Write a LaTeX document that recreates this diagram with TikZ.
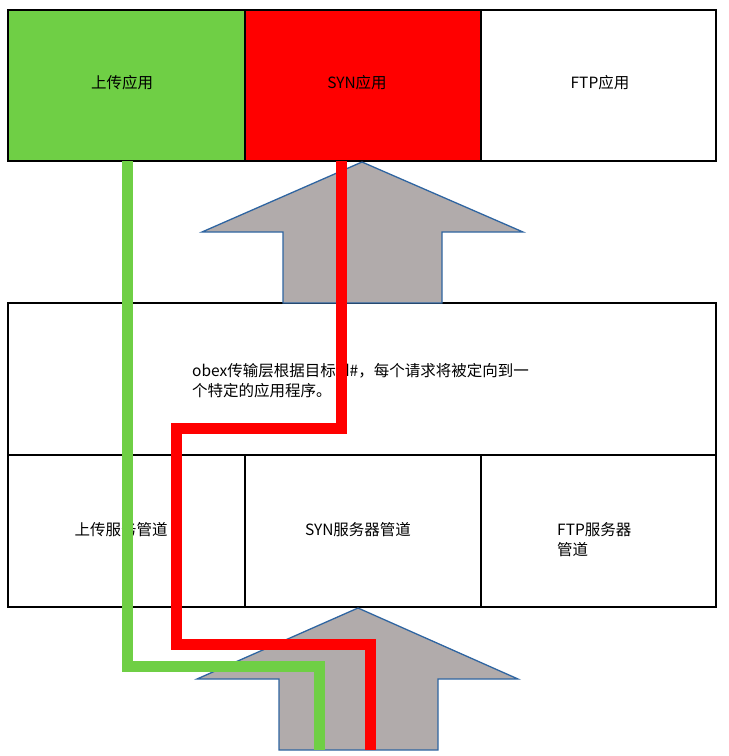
\documentclass[tikz,border=0pt]{standalone}
\usepackage{fontspec}
\newfontfamily\cjk{Noto Sans CJK SC}
\definecolor{upgreen}{HTML}{6FCF45}
\definecolor{synred}{HTML}{FF0000}
\definecolor{arrgray}{HTML}{B1ABAB}
\definecolor{arrblue}{HTML}{2F65A1}
\begin{document}
\begin{tikzpicture}[x=1pt,y=-1pt,
  cell/.style={draw=black,line width=1.3pt,inner sep=0pt},
  lbl/.style={font=\cjk\fontsize{15.5}{20}\selectfont,inner sep=0pt,text=black},
  bigarrow/.style={fill=arrgray,draw=arrblue,line width=1.3pt,line join=miter},
  route/.style={line width=11pt,line join=miter,line cap=butt}]
\useasboundingbox (0,0) rectangle (729,756);
% top row
\draw[cell,fill=upgreen] (8,10) rectangle (245,161);
\draw[cell,fill=synred] (245,10) rectangle (481,161);
\draw[cell,fill=white] (481,10) rectangle (716,161);
\node[lbl] (tA) at (122,83) {上传应用};
\node[lbl] (tB) at (357,83) {SYN应用};
\node[lbl] (tC) at (600,83) {FTP应用};
% middle box
\draw[cell] (8,303) rectangle (716,455);
\node[lbl,anchor=west,align=left] (mid) at (192,381) {obex传输层根据目标id\#，每个请求将被定向到一\\个特定的应用程序。};
% lower row
\draw[cell] (8,455) rectangle (245,607);
\draw[cell] (245,455) rectangle (481,607);
\draw[cell] (481,455) rectangle (716,607);
\node[lbl] (lA) at (121,530) {上传服务管道};
\node[lbl] (lB) at (358,530) {SYN服务器管道};
\node[lbl,anchor=west,align=left] (lC) at (557,540) {FTP服务器\\管道};
% arrows
\draw[bigarrow] (362,162) -- (523,232) -- (442,232) -- (442,303) -- (283,303) -- (283,232) -- (202,232) -- cycle;
\draw[bigarrow] (358,608) -- (518,679) -- (438,679) -- (438,750) -- (279,750) -- (279,679) -- (197,679) -- cycle;
% routes
\coordinate (gs) at (127,161);
\coordinate (ge) at (319,750);
\coordinate (rs) at (341,161);
\coordinate (re) at (370,750);
\draw[route,upgreen] (gs) -- (127,666) -- (319,666) -- (ge);
\draw[route,synred] (rs) -- (341,428) -- (176,428) -- (176,644) -- (370,644) -- (re);
\end{tikzpicture}
\end{document}
